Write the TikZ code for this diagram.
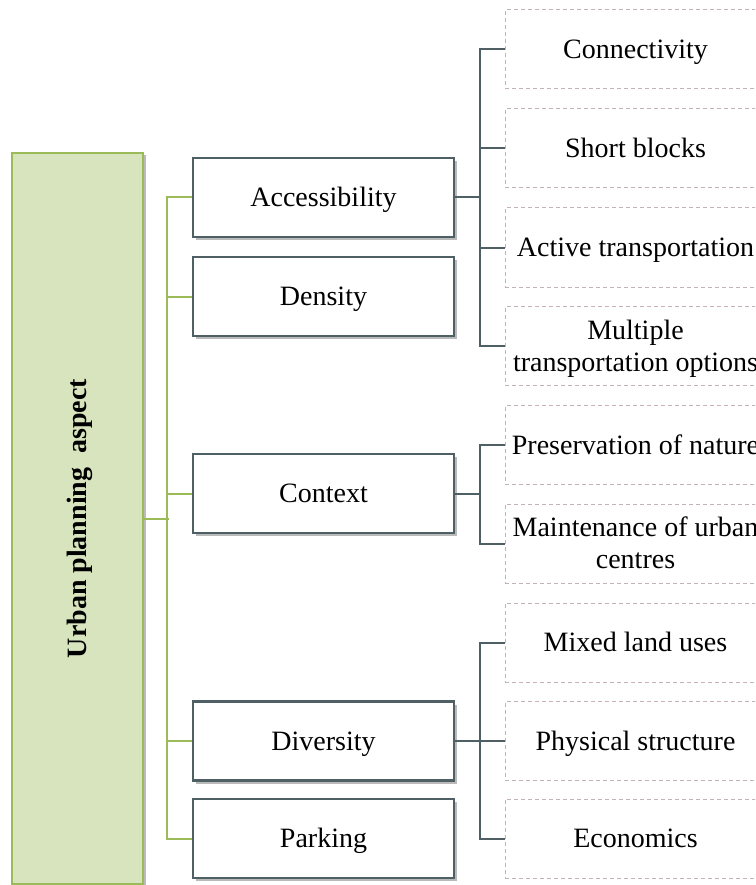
\documentclass[tikz,border=0pt]{standalone}
\usepackage{fontspec}
\setmainfont{Liberation Serif}
\usetikzlibrary{shadows}
\definecolor{leafgreen}{RGB}{155,187,89}
\definecolor{leaffill}{RGB}{216,228,190}
\definecolor{slate}{RGB}{78,96,100}
\definecolor{dashrose}{RGB}{196,178,184}
\tikzset{
  every node/.style={font=\fontsize{28}{32}\selectfont, text=black, align=center,
    inner sep=0pt, text height=22pt, text depth=3.5pt},
  twolines/.style={text height=54pt, text depth=4pt},
  rootbox/.style={draw=leafgreen, fill=leaffill, line width=2pt,
    minimum width=131pt, minimum height=731pt,
    drop shadow={shadow xshift=3pt, shadow yshift=-2pt, fill=black!45, opacity=0.6}},
  aspectbox/.style={draw=slate, fill=white, line width=2.5pt,
    minimum width=261pt, minimum height=79pt,
    drop shadow={shadow xshift=3pt, shadow yshift=-3pt, fill=black!45, opacity=0.6}},
  itembox/.style={draw=dashrose, line width=1pt, dash pattern=on 4pt off 3pt,
    minimum width=261pt, minimum height=79pt},
  greenlink/.style={draw=leafgreen, line width=2pt},
  slatelink/.style={draw=slate, line width=2pt},
}
\begin{document}
\begin{tikzpicture}[x=1pt, y=-1pt]
\useasboundingbox (0,0) rectangle (755,885);
\clip (0,0) rectangle (755,885);

% root
\node[rootbox] (root) at (77.5,518.5) {};
\node[rotate=90, font=\fontsize{28}{32}\selectfont\bfseries] (rootlabel) at (root.center) {Urban planning\ \ aspect};

% aspects
\node[aspectbox] (acc)  at (323.5,197.5) {Accessibility};
\node[aspectbox] (dens) at (323.5,296.5) {Density};
\node[aspectbox] (ctx)  at (323.5,493.5) {Context};
\node[aspectbox] (div)  at (323.5,741)   {Diversity};
\node[aspectbox] (park) at (323.5,838.5) {Parking};

% items
\node[itembox] (conn)  at (635.5,49.5)  {Connectivity};
\node[itembox] (short) at (635.5,148.5) {Short blocks};
\node[itembox] (act)   at (635.5,247.5) {Active transportation};
\node[itembox, twolines] (multi) at (635.5,346) {Multiple\\transportation options};
\node[itembox] (pres)  at (635.5,445)   {Preservation of nature};
\node[itembox, twolines] (maint) at (635.5,543.5) {Maintenance of urban\\centres};
\node[itembox] (mixed) at (635.5,642.5) {Mixed land uses};
\node[itembox] (phys)  at (635.5,741)   {Physical structure};
\node[itembox] (econ)  at (635.5,838.5) {Economics};

% root to aspects
\draw[greenlink] (root.east) -- ++(25,0);
\draw[greenlink] (acc.west) -- ++(-25,0) |- (park.west);
\foreach \n in {dens,ctx,div} \draw[greenlink] (\n.west) -- ++(-25,0);

% accessibility
\draw[slatelink] (acc.east) -- ++(26,0);
\draw[slatelink] (conn.west) -- ++(-25,0) |- (multi.west);
\foreach \n in {short,act} \draw[slatelink] (\n.west) -- ++(-25,0);

% context
\draw[slatelink] (ctx.east) -- ++(26,0);
\draw[slatelink] (pres.west) -- ++(-25,0) |- (maint.west);

% diversity
\draw[slatelink] (div.east) -- ++(26,0);
\draw[slatelink] (mixed.west) -- ++(-25,0) |- (econ.west);
\draw[slatelink] (phys.west) -- ++(-25,0);
\end{tikzpicture}
\end{document}
